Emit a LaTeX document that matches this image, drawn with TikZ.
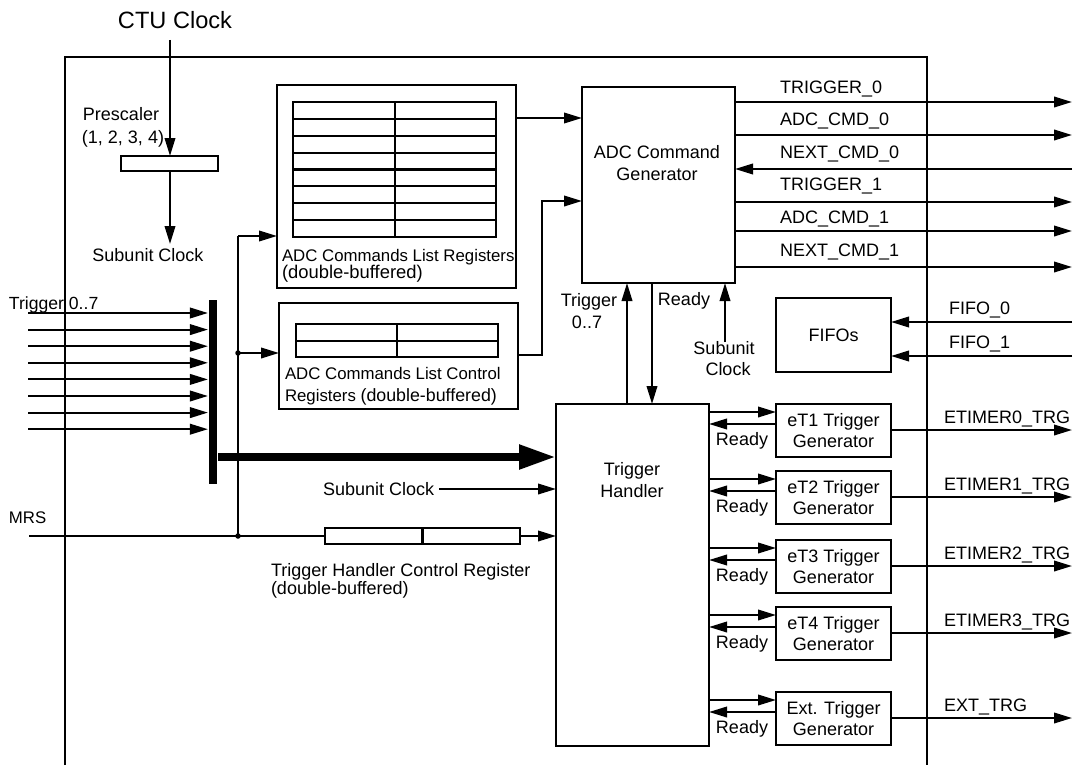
\documentclass[tikz,border=0pt]{standalone}
\usepackage{fontspec}
\setmainfont{Liberation Sans}
\usetikzlibrary{arrows.meta}
\begin{document}
\begin{tikzpicture}[x=1pt,y=-1pt,line width=2.1pt,
  fnt/.style={font=\fontsize{18}{21.5}\selectfont},
  sfnt/.style={font=\fontsize{16.8}{17}\selectfont},
  box/.style={draw, inner sep=0pt, outer sep=0pt, align=center, fnt},
  lbl/.style={inner sep=0pt, outer sep=0pt, fnt, text height=13pt, text depth=0pt},
  slbl/.style={inner sep=0pt, outer sep=0pt, sfnt, text height=12pt, text depth=0pt},
  txt/.style={inner sep=0pt, outer sep=0pt, align=center, fnt},
  arr/.style={-{Triangle[length=18pt,width=10.5pt]}},
  dot/.style={circle, fill, inner sep=0pt, minimum size=5.5pt},
]
\useasboundingbox (0,0) rectangle (1075,765);
% outer frame (open at the bottom)
\draw (65,765) -- (65,57) -- (927,57) -- (927,765);

% clock and prescaler
\node[lbl, font=\fontsize{23.6}{26}\selectfont, text height=17pt] (ctu) at (175,20) {CTU Clock};
\node[box, minimum width=97pt, minimum height=15pt] (pres) at (169.5,163.5) {};
\node[lbl] (prl1) at (121,114) {Prescaler};
\node[lbl] (prl2) at (123,137) {(1, 2, 3, 4)};
\coordinate (c0) at (170,40);
\coordinate (c1) at (170,244);
\draw[arr] (c0) -- (pres.north -| c0);
\draw[arr] (pres.south -| c0) -- (c1);
\node[lbl] (sc1) at (148,255) {Subunit Clock};

% ADC commands list registers
\node[box, minimum width=239pt, minimum height=203pt] (adcl) at (396.5,186.5) {};
\draw (293,102) rectangle (496,237);
\foreach \k in {1,...,7} \draw (293,{102+\k*16.875}) -- (496,{102+\k*16.875});
\draw (395,102) -- (395,237);
\node[slbl, anchor=west] (adcl1) at (282,255) {ADC Commands List Registers};
\node[slbl, anchor=west, font=\fontsize{18.4}{19}\selectfont] (adcl2) at (282,272) {(double-buffered)};

% ADC commands list control registers
\node[box, minimum width=239pt, minimum height=106pt] (ctrl) at (398.5,356) {};
\draw (296,324) rectangle (498,357);
\draw (296,341) -- (498,341);
\draw (397,324) -- (397,357);
\node[slbl, anchor=west] (ctl1) at (285,373) {ADC Commands List Control};
\node[slbl, anchor=west] (ctl2) at (285,395) {Registers \fontsize{17.8}{19}\selectfont(double-buffered)};

% ADC command generator
\node[box, minimum width=153pt, minimum height=196pt] (gen) at (658.5,185) {};
\node[txt] (gent) at (657,163) {ADC Command\\Generator};
\coordinate (a1) at (516,118);
\draw[arr] (a1) -- (gen.west |- a1);
\coordinate (b1) at (542,355);
\coordinate (b2) at (542,201);
\draw[arr] (ctrl.east |- b1) -- (b1) -- (b2) -- (gen.west |- b2);

% generator outputs
\foreach \y/\ly/\name/\dir in {102/87/TRIGGER\_0/o, 135/119/ADC\_CMD\_0/o, 169/152/NEXT\_CMD\_0/i, 202/184/TRIGGER\_1/o, 231/217/ADC\_CMD\_1/o, 267/250/NEXT\_CMD\_1/o}{
  \coordinate (e\y) at (1072,\y);
  \if o\dir
    \draw[arr] (gen.east |- e\y) -- (e\y);
  \else
    \draw[arr] (e\y) -- (gen.east |- e\y);
  \fi
  \node[lbl, anchor=west] at (780,\ly) {\name};
}

% trigger handler
\node[box, minimum width=153pt, minimum height=342pt] (th) at (632.5,575) {};
\node[txt] (tht) at (632,480) {Trigger\\Handler};

% connections between generator and handler
\coordinate (t1) at (627,0);
\coordinate (r1) at (652,0);
\coordinate (sc3) at (725,342);
\draw[arr] (th.north -| t1) -- (gen.south -| t1);
\draw[arr] (gen.south -| r1) -- (th.north -| r1);
\draw[arr] (sc3) -- (gen.south -| sc3);
\node[lbl] at (589,300) {Trigger};
\node[lbl] at (587,322) {0..7};
\node[lbl] at (684,299) {Ready};
\node[lbl] at (724,348) {Subunit};
\node[lbl] at (728,369) {Clock};

% FIFOs
\node[box, minimum width=115pt, minimum height=74pt] (fifo) at (833.5,335) {FIFOs};
\coordinate (f0) at (1072,322);
\coordinate (f1) at (1072,356);
\draw[arr] (f0) -- (fifo.east |- f0);
\draw[arr] (f1) -- (fifo.east |- f1);
\node[lbl, anchor=west] at (949,308) {FIFO\_0};
\node[lbl, anchor=west] at (949,342) {FIFO\_1};

% trigger generators
\foreach \t/\a/\b/\n in {404/eT1 Trigger/ETIMER0\_TRG/1, 471/eT2 Trigger/ETIMER1\_TRG/2, 540/eT3 Trigger/ETIMER2\_TRG/3, 607/eT4 Trigger/ETIMER3\_TRG/4, 692/Ext. Trigger/EXT\_TRG/5}{
  \node[box, minimum width=115pt, minimum height=53pt] (g\n) at (833.5,\t+26.5) {\a\\Generator};
  \coordinate (go\n) at (0,\t+8);
  \coordinate (gr\n) at (0,\t+20);
  \coordinate (gx\n) at (1072,\t+26);
  \draw[arr] (th.east |- go\n) -- (g\n.west |- go\n);
  \draw[arr] (g\n.west |- gr\n) -- (th.east |- gr\n);
  \draw[arr] (g\n.east |- gx\n) -- (gx\n);
  \node[lbl] at (742,\t+35) {Ready};
  \node[lbl, anchor=west] at (944,\t+13) {\b};
}

% trigger inputs and bus
\node[fill, inner sep=0pt, minimum width=8pt, minimum height=184pt] (bus) at (213,392) {};
\foreach \i in {0,...,7}{
  \coordinate (tin\i) at (28,{313+16.6*\i});
  \draw[arr] (tin\i) -- (tin\i -| bus.west);
}
\node[lbl, anchor=west, font=\fontsize{17.6}{19}\selectfont] at (9,303) {Trigger 0..7};
\coordinate (bb) at (0,457);
\draw[line width=8pt, -{Triangle[length=37pt,width=23pt]}] (bus.east |- bb) -- (th.west |- bb);

% subunit clock into handler
\node[lbl, anchor=west] (sc2) at (323,489) {Subunit Clock};
\draw[arr] ([xshift=5pt]sc2.east) -- (th.west |- sc2.east);

% MRS and control register
\node[lbl, anchor=west, font=\fontsize{16.8}{19}\selectfont] at (9,517) {MRS};
\node[box, minimum width=195pt, minimum height=16pt] (thcr) at (422.5,536) {};
\draw (thcr.north) -- (thcr.south);
\coordinate (mrs) at (29,536);
\draw (mrs) -- (thcr.west);
\draw[arr] (thcr.east) -- (th.west |- thcr.east);
\node[lbl, anchor=west] at (271,570) {Trigger Handler Control Register};
\node[lbl, anchor=west] at (271,588) {(double-buffered)};
\node[dot] (j1) at (238,536) {};
\node[dot] (j2) at (238,353) {};
\coordinate (j3) at (238,236);
\draw (j1.center) -- (j3);
\draw[arr] (j3) -- (adcl.west |- j3);
\draw[arr] (j2.center) -- (ctrl.west |- j2);
\end{tikzpicture}
\end{document}
